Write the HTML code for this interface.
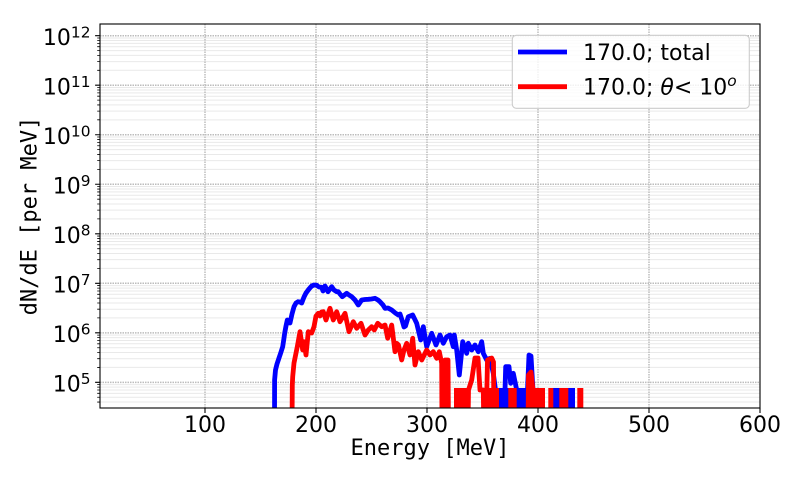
<!DOCTYPE html>
<html><head><meta charset="utf-8"><style>
html,body{margin:0;padding:0;background:#fff;}
svg{display:block;}
text{font-family:"DejaVu Sans","Liberation Sans",sans-serif;fill:#000;}
.mono{font-family:"DejaVu Sans Mono","Liberation Mono",monospace;}
</style></head><body>
<svg width="800" height="480" viewBox="0 0 800 480" xmlns="http://www.w3.org/2000/svg">
<defs><clipPath id="pa"><rect x="100" y="24" width="660" height="384"/></clipPath></defs>
<rect x="0" y="0" width="800" height="480" fill="#fff"/>
<!-- minor grid -->
<path stroke="#e9e9e9" stroke-width="1" fill="none" d="
M100 70.31H760M100 61.59H760M100 55.41H760M100 50.61H760M100 46.69H760M100 43.37H760M100 40.50H760M100 37.97H760
M100 119.83H760M100 111.11H760M100 104.93H760M100 100.13H760M100 96.21H760M100 92.89H760M100 90.02H760M100 87.49H760
M100 169.35H760M100 160.63H760M100 154.45H760M100 149.65H760M100 145.73H760M100 142.41H760M100 139.54H760M100 137.01H760
M100 218.87H760M100 210.15H760M100 203.97H760M100 199.17H760M100 195.25H760M100 191.93H760M100 189.06H760M100 186.53H760
M100 268.39H760M100 259.67H760M100 253.49H760M100 248.69H760M100 244.77H760M100 241.45H760M100 238.58H760M100 236.05H760
M100 317.91H760M100 309.19H760M100 303.01H760M100 298.21H760M100 294.29H760M100 290.97H760M100 288.10H760M100 285.57H760
M100 367.43H760M100 358.71H760M100 352.53H760M100 347.73H760M100 343.81H760M100 340.49H760M100 337.62H760M100 335.09H760
M100 402.05H760M100 397.25H760M100 393.33H760M100 390.01H760M100 387.14H760M100 384.61H760"/>
<!-- major grid -->
<path stroke="#bdbdbd" stroke-width="1.5" stroke-dasharray="1.5 1" fill="none" d="
M100 35.7H760M100 85.22H760M100 134.74H760M100 184.26H760M100 233.78H760M100 283.3H760M100 332.82H760M100 382.34H760
M205 24V408M316 24V408M427 24V408M538 24V408M649 24V408"/>
<!-- data -->
<g clip-path="url(#pa)" fill="none" stroke-linejoin="round" stroke-width="4.8">
<polyline stroke="#0000ff" points="274.5,430 274.6,380 275.5,370 277,364 279,358 280.7,353 282.7,346.7 284,338 284.7,333 286,326 287.3,320 290,323 292,314 294,306.7 296,303 298,301.7 300,302 301.7,303 304,297 306,293 309,289 311.7,286 314,285 316.7,285.3 319,287 321.7,287.3 323,291 325,286 328,291.7 331.7,286.7 334,290 336.7,291.7 338.3,291.7 340,294 342.3,296.7 346.7,293.3 349,295 351.7,296.7 355,300 358.3,305 361.7,300 365,299.5 368.3,299.3 371.5,299 375,298.3 378,300 380,301.7 383,305 385,308.3 388,308 391.7,310 395.7,313.3 398.3,315 400,314 402,320 404,327 405.5,326 408.3,316.7 412.7,315 416.7,323.3 420.7,340 423.3,326.7 426.7,346.7 431.7,333.3 436,345 440,335 443.3,343.3 446.7,336.7 450,335 453.3,346.7 454.3,335 456.7,350 459.3,375 462.7,341.7 466.7,353.3 468.3,343.3 471.7,350 475,345 478.3,351.7 481.7,341.7 483.3,353.3 486.7,360 490,358.3 493.3,373.3 495.5,390 496,430"/>
<polyline stroke="#0000ff" points="505,390 505.7,366.7 509,366.7 510.7,383.3 513.3,373.3 516.7,390"/>
<polyline stroke="#0000ff" points="527.5,390 529,355 531,356 533,390"/>
<g fill="#0000ff" stroke="none">
<rect x="494" y="388" width="14" height="22"/>
<rect x="508" y="388" width="20" height="22"/>
<rect x="533" y="388" width="12" height="22"/>
<rect x="553" y="388" width="6.5" height="22"/>
<rect x="568" y="388" width="7" height="22"/>
</g>
<polyline stroke="#ff0000" points="292,430 292.3,385 292.7,376.7 294,363 297.3,346.7 300,331.7 302.7,350 304,341.7 306,355 308.3,331.7 311.7,333 314,326.7 316,316 318.3,313.3 320,316 321.5,312 323.3,311.7 326,320 328,314 330,308.3 333.3,320 336.7,311.7 340,321.7 345,313.3 349,331.7 353.3,321.7 356.7,328.3 361,323.3 365,335 368.3,330 371.7,326.7 374.3,330 377.7,323.3 381.7,326.7 385,325 387.7,338.3 391.7,325 395,351.7 396.7,343.3 398.5,345 401.7,360 404,350 406.7,343.3 410,355 412.7,338.3 415,365 418.3,351.7 421.7,360 426.7,350 430,355 433.3,351.7 436.7,358.3 439.3,351.7 441.7,363.3 442,430 444.5,430 445,360 448,360 448.5,430"/>
<polyline stroke="#ff0000" points="468,430 468.5,390 471.7,380 475,358 478,358 480,390 483.3,390 483.8,430"/>
<polyline stroke="#ff0000" points="486,430 487.5,360 491.7,358 493.5,362 494,430"/>
<polyline stroke="#ff0000" points="528,430 528.5,375 531,372 533,390"/>
<g fill="#ff0000" stroke="none">
<rect x="454" y="388" width="14" height="22"/>
<rect x="484" y="388" width="15" height="22"/>
<rect x="508.3" y="388" width="8.4" height="22"/>
<rect x="527" y="388" width="18" height="22"/>
<rect x="548.3" y="388" width="5" height="22"/>
<rect x="559.3" y="388" width="9" height="22"/>
<rect x="577.3" y="388" width="6" height="22"/>
</g>
</g>
<!-- ticks -->
<path stroke="#000" stroke-width="1.1" fill="none" d="
M95.1 35.7H100M95.1 85.22H100M95.1 134.74H100M95.1 184.26H100M95.1 233.78H100M95.1 283.3H100M95.1 332.82H100M95.1 382.34H100
M205 408V413M316 408V413M427 408V413M538 408V413M649 408V413M760 408V413"/>
<path stroke="#000" stroke-width="0.8" fill="none" d="
M97.2 70.31H100M97.2 61.59H100M97.2 55.41H100M97.2 50.61H100M97.2 46.69H100M97.2 43.37H100M97.2 40.50H100M97.2 37.97H100
M97.2 119.83H100M97.2 111.11H100M97.2 104.93H100M97.2 100.13H100M97.2 96.21H100M97.2 92.89H100M97.2 90.02H100M97.2 87.49H100
M97.2 169.35H100M97.2 160.63H100M97.2 154.45H100M97.2 149.65H100M97.2 145.73H100M97.2 142.41H100M97.2 139.54H100M97.2 137.01H100
M97.2 218.87H100M97.2 210.15H100M97.2 203.97H100M97.2 199.17H100M97.2 195.25H100M97.2 191.93H100M97.2 189.06H100M97.2 186.53H100
M97.2 268.39H100M97.2 259.67H100M97.2 253.49H100M97.2 248.69H100M97.2 244.77H100M97.2 241.45H100M97.2 238.58H100M97.2 236.05H100
M97.2 317.91H100M97.2 309.19H100M97.2 303.01H100M97.2 298.21H100M97.2 294.29H100M97.2 290.97H100M97.2 288.10H100M97.2 285.57H100
M97.2 367.43H100M97.2 358.71H100M97.2 352.53H100M97.2 347.73H100M97.2 343.81H100M97.2 340.49H100M97.2 337.62H100M97.2 335.09H100
M97.2 402.05H100M97.2 397.25H100M97.2 393.33H100M97.2 390.01H100M97.2 387.14H100M97.2 384.61H100"/>
<!-- spines -->
<rect x="100" y="24" width="660" height="384" fill="none" stroke="#000" stroke-width="1.1"/>
<!-- y tick labels -->
<g font-size="22" text-anchor="end">
<text x="90.5" y="45">10<tspan dy="-7.7" font-size="15.4">12</tspan></text>
<text x="90.5" y="94.5">10<tspan dy="-7.7" font-size="15.4">11</tspan></text>
<text x="90.5" y="144">10<tspan dy="-7.7" font-size="15.4">10</tspan></text>
<text x="90.5" y="193.5">10<tspan dy="-7.7" font-size="15.4">9</tspan></text>
<text x="90.5" y="243">10<tspan dy="-7.7" font-size="15.4">8</tspan></text>
<text x="90.5" y="292.6">10<tspan dy="-7.7" font-size="15.4">7</tspan></text>
<text x="90.5" y="342.1">10<tspan dy="-7.7" font-size="15.4">6</tspan></text>
<text x="90.5" y="391.6">10<tspan dy="-7.7" font-size="15.4">5</tspan></text>
</g>
<!-- x tick labels -->
<g font-size="22" text-anchor="middle">
<text x="205" y="432">100</text>
<text x="316" y="432">200</text>
<text x="427" y="432">300</text>
<text x="538" y="432">400</text>
<text x="649" y="432">500</text>
<text x="760" y="432">600</text>
</g>
<!-- axis labels -->
<text class="mono" x="430" y="455" font-size="22" text-anchor="middle">Energy [MeV]</text>
<text class="mono" font-size="22" text-anchor="middle" transform="translate(36.5,216) rotate(-90)">dN/dE [per MeV]</text>
<!-- legend -->
<rect x="512.3" y="35.3" width="237" height="73" rx="4" ry="4" fill="#fff" fill-opacity="0.8" stroke="#cccccc" stroke-width="1.1"/>
<line x1="518" y1="52" x2="567" y2="52" stroke="#0000ff" stroke-width="4.8"/>
<line x1="518" y1="86.7" x2="567" y2="86.7" stroke="#ff0000" stroke-width="4.8"/>
<text x="583" y="60" font-size="22">170.0; total</text>
<text x="583" y="94.5" font-size="22">170.0; <tspan font-style="italic">θ</tspan>&lt; 10<tspan dy="-8.5" font-size="15.4" font-style="italic">o</tspan></text>
</svg>
</body></html>
